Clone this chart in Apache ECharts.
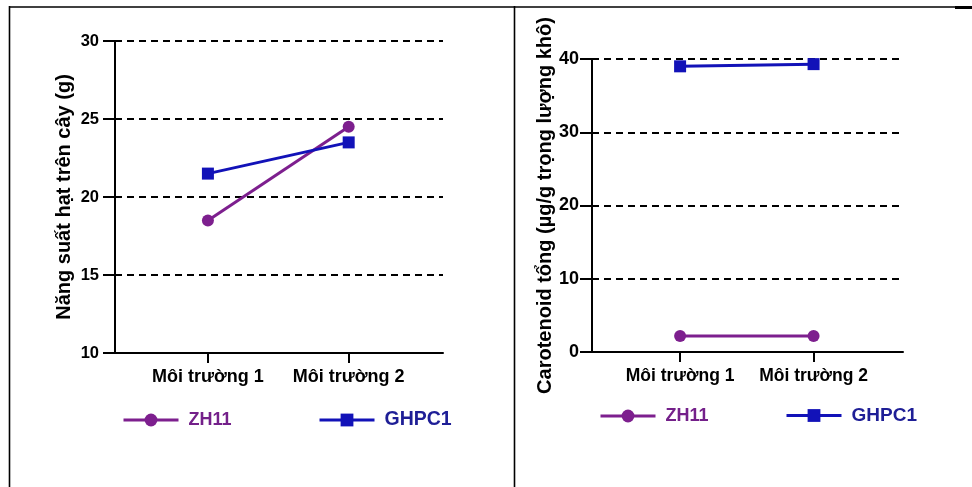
<!DOCTYPE html>
<html><head><meta charset="utf-8">
<script src="https://cdn.jsdelivr.net/npm/echarts@6/dist/echarts.min.js"></script>
<style>html,body{margin:0;padding:0;background:#fff}#c{width:972px;height:487px}</style>
</head><body><div id="c"></div>
<script>
const categories = ['Môi trường 1', 'Môi trường 2'];
const seriesNames = ['ZH11', 'GHPC1'];
const yieldZH11 = [18.5, 24.5];
const yieldGHPC1 = [21.5, 23.5];
const caroZH11 = [2.2, 2.2];
const caroGHPC1 = [39.0, 39.3];
const leftTicks = [10, 15, 20, 25, 30];
const rightTicks = [0, 10, 20, 30, 40];
const leftTitle = 'Năng suất hạt trên cây (g)';
const rightTitle = 'Carotenoid tổng (µg/g trọng lượng khô)';

const FONT = "'Liberation Sans', Arial, sans-serif";
const PURPLE = '#7d1f8e';
const BLUE = '#1212b8';
const PURPLE_T = '#74208a';
const BLUE_T = '#1e1e96';

const toPts = arr => arr.map((v, i) => [i + 1, v]);
const catPos = categories.map((c, i) => i + 1);

function xAxis(gi, fs) {
  return {
    type: 'value', gridIndex: gi, min: 0.34, max: 2.67,
    axisLine: { show: true, onZero: false, lineStyle: { color: '#000', width: 2 } },
    axisTick: { show: true, length: 10, lineStyle: { color: '#000', width: 2 }, customValues: catPos },
    axisLabel: { show: true, customValues: catPos, margin: 15, color: '#000', fontFamily: FONT, fontWeight: 'bold', fontSize: fs,
      formatter: v => categories[Math.round(v) - 1] || '' },
    splitLine: { show: false }
  };
}
function yAxis(gi, min, max, interval, name, gap, fs, margin) {
  return {
    type: 'value', gridIndex: gi, min, max, interval,
    name, nameLocation: 'middle', nameGap: gap,
    nameTextStyle: { color: '#000', fontFamily: FONT, fontWeight: 'bold', fontSize: 20 },
    axisLine: { show: true, onZero: false, lineStyle: { color: '#000', width: 2 } },
    axisTick: { show: true, length: 12, lineStyle: { color: '#000', width: 2 } },
    axisLabel: { margin, color: '#000', fontFamily: FONT, fontWeight: 'bold', fontSize: fs },
    splitLine: { show: true, lineStyle: { color: '#000', width: 2, type: [7, 5] } }
  };
}
function series(name, data, gi, color, sym) {
  return {
    name, type: 'line', xAxisIndex: gi, yAxisIndex: gi, data: toPts(data),
    symbol: sym, symbolSize: 12, showSymbol: true,
    lineStyle: { color, width: 3 }, itemStyle: { color },
    z: 5, animation: false
  };
}
function legend(name, left, top, tcolor, fs) {
  return {
    data: [name], left, top, selectedMode: false, itemWidth: 55, itemHeight: 16,
    lineStyle: { width: 3 },
    textStyle: { color: tcolor, fontFamily: FONT, fontWeight: 'bold', fontSize: fs, padding: [0, 0, 0, 5] }
  };
}

const chart = echarts.init(document.getElementById('c'), null, { renderer: 'canvas' });
chart.setOption({
  animation: false,
  backgroundColor: '#fff',
  grid: [
    { left: 115, top: 41, width: 328, height: 312 },
    { left: 592, top: 59, width: 311, height: 293 }
  ],
  xAxis: [xAxis(0, 18), xAxis(1, 17.5)],
  yAxis: [
    yAxis(0, leftTicks[0], leftTicks[leftTicks.length - 1], 5, leftTitle, 41, 16.5, 16),
    yAxis(1, rightTicks[0], rightTicks[rightTicks.length - 1], 10, rightTitle, 36, 18, 13)
  ],
  legend: [
    legend(seriesNames[0], 117, 406, PURPLE_T, 18),
    legend(seriesNames[1], 313, 405, BLUE_T, 19.5),
    legend(seriesNames[0], 594, 402, PURPLE_T, 18),
    legend(seriesNames[1], 780, 401, BLUE_T, 19)
  ],
  series: [
    series(seriesNames[0], yieldZH11, 0, PURPLE, 'circle'),
    series(seriesNames[1], yieldGHPC1, 0, BLUE, 'rect'),
    series(seriesNames[0], caroZH11, 1, PURPLE, 'circle'),
    series(seriesNames[1], caroGHPC1, 1, BLUE, 'rect')
  ],
  graphic: [
    { type: 'line', shape: { x1: 9, y1: 7, x2: 972, y2: 7 }, style: { stroke: '#000', lineWidth: 1.6 } },
    { type: 'line', shape: { x1: 955, y1: 7.5, x2: 972, y2: 7.5 }, style: { stroke: '#000', lineWidth: 3 } },
    { type: 'line', shape: { x1: 9.5, y1: 6, x2: 9.5, y2: 487 }, style: { stroke: '#000', lineWidth: 1.6 } },
    { type: 'line', shape: { x1: 514.5, y1: 6, x2: 514.5, y2: 487 }, style: { stroke: '#000', lineWidth: 1.6 } }
  ]
});
</script></body></html>
